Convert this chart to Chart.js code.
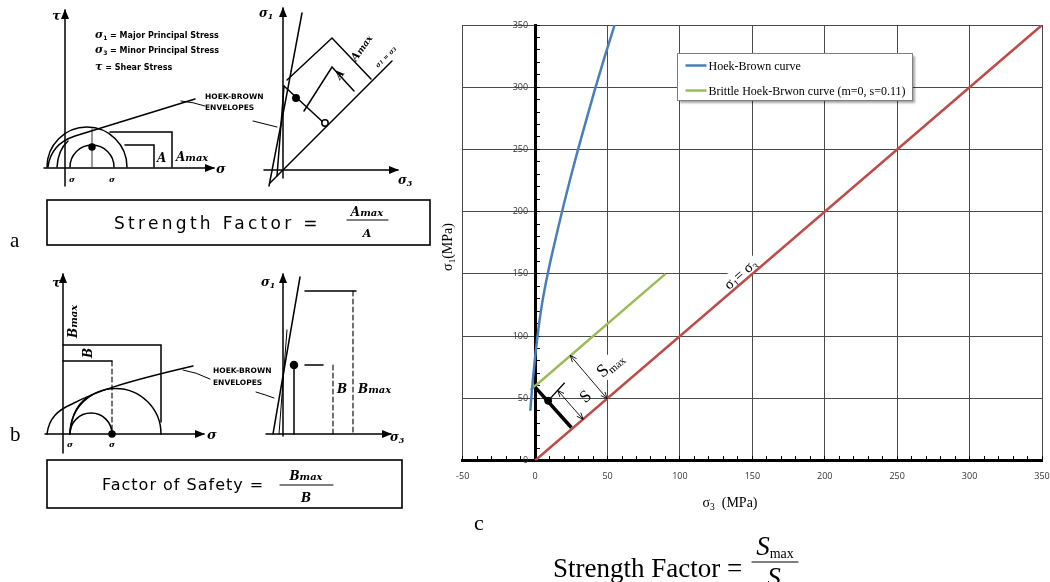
<!DOCTYPE html>
<html><head><meta charset="utf-8">
<script src="https://cdn.jsdelivr.net/npm/chart.js@4.4.1/dist/chart.umd.min.js"></script>
<style>
html,body{margin:0;padding:0;background:#fff;}
#page{position:relative;width:1050px;height:582px;overflow:hidden;background:#fff;}
#wrap{position:absolute;left:422px;top:0;width:660px;height:500px;}
#ov{position:absolute;left:0;top:0;pointer-events:none;}
.cap{font-family:"DejaVu Sans",sans-serif;font-weight:bold;font-size:7.5px;fill:#000;stroke:none;}
.lg{font-family:"DejaVu Sans",sans-serif;font-weight:bold;font-size:8px;fill:#000;stroke:none;}
.sg{font-family:"DejaVu Serif",serif;font-style:italic;font-weight:bold;fill:#000;stroke:none;}
.bx{font-family:"DejaVu Sans",sans-serif;fill:#000;stroke:none;}
.ser{font-family:"Liberation Serif","Times New Roman",serif;fill:#000;stroke:none;}
</style></head>
<body><div id="page">
<div id="wrap"><canvas id="c" width="660" height="500"></canvas></div>
<svg id="ov" width="1050" height="582" viewBox="0 0 1050 582" xmlns="http://www.w3.org/2000/svg">
<defs>
<marker id="ar" markerWidth="10" markerHeight="8" refX="9" refY="4" orient="auto" markerUnits="userSpaceOnUse"><path d="M0,0 L10,4 L0,8 z" fill="#000"/></marker>
</defs>
<g stroke="#000" fill="none" stroke-width="1.5" stroke-linecap="round">
<!-- panel a, left sketch -->
<line x1="65" y1="186" x2="65" y2="10" marker-end="url(#ar)"/>
<line x1="44" y1="168" x2="214" y2="168" marker-end="url(#ar)"/>
<path d="M48,167 C50,150 60,141 75,136 S140,116 195,99"/>
<path d="M47,167 A40,40 0 0 1 127,167"/>
<path d="M70,167 A22,22 0 0 1 114,167"/>
<path d="M57,167 Q58,150 68,141"/>
<line x1="92" y1="129" x2="92" y2="167" stroke-width="0.8"/>
<polyline points="125,145 154,145 154,167"/>
<polyline points="110,132 172,132 172,167"/>
<path d="M205,106 Q193,102 181,101" stroke-width="1"/>
<circle cx="92" cy="147" r="3" fill="#000"/>
<!-- panel a, right sketch -->
<line x1="283" y1="178" x2="283" y2="8" marker-end="url(#ar)"/>
<line x1="264" y1="170" x2="398" y2="170" marker-end="url(#ar)"/>
<path d="M269,186 Q286,100 302,13"/>
<path d="M277,176 L284,86"/>
<line x1="270" y1="183" x2="392" y2="61"/>
<line x1="284" y1="86" x2="325" y2="124"/>
<circle cx="296" cy="98" r="3.2" fill="#000"/>
<circle cx="325" cy="123" r="3.2" fill="#fff"/>
<polyline points="304,111 332,67 354,91"/>
<polyline points="287,80 332,38 371,79"/>
<path d="M253,121 Q265,124 277,127" stroke-width="1"/>
<rect x="47" y="200" width="383" height="45" stroke-width="1.6"/>
<line x1="347" y1="220" x2="388" y2="220" stroke-width="1.2"/>
<!-- panel b, left sketch -->
<line x1="63" y1="453" x2="63" y2="274" marker-end="url(#ar)"/>
<line x1="45" y1="434" x2="204" y2="434" marker-end="url(#ar)"/>
<path d="M47,434 C49,418 58,410 72,404 C95,392 120,383 193,366"/>
<path d="M70,434 A45.5,45.5 0 0 1 161,434"/>
<path d="M70,434 A21,21 0 0 1 112,434"/>
<path d="M70,434 Q72,404 92,395"/>
<circle cx="112" cy="434" r="3" fill="#000"/>
<polyline points="63,345 161,345 161,422"/>
<line x1="63" y1="361" x2="112" y2="361"/>
<line x1="112" y1="361" x2="112" y2="434" stroke-dasharray="5,3" stroke-width="1.1"/>
<path d="M210,379 Q196,372 183,370" stroke-width="1"/>
<!-- panel b, right sketch -->
<line x1="283" y1="436" x2="283" y2="274" marker-end="url(#ar)"/>
<line x1="266" y1="434" x2="391" y2="434" marker-end="url(#ar)"/>
<line x1="273" y1="434" x2="300" y2="277"/>
<line x1="279" y1="434" x2="287" y2="330" stroke-width="1"/>
<line x1="294" y1="365" x2="294" y2="434"/>
<circle cx="294" cy="365" r="3.5" fill="#000"/>
<line x1="305" y1="365" x2="323" y2="365"/>
<line x1="333" y1="365" x2="333" y2="434" stroke-dasharray="5,3" stroke-width="1.1"/>
<line x1="305" y1="291" x2="356" y2="291"/>
<line x1="353" y1="291" x2="353" y2="434" stroke-dasharray="5,3" stroke-width="1.1"/>
<path d="M256,392 Q266,395 274,398" stroke-width="1"/>
<rect x="47" y="460" width="355" height="48" stroke-width="1.6"/>
<line x1="280" y1="485" x2="333" y2="485" stroke-width="1.2"/>
<!-- equation bar (panel c) -->
<line x1="752" y1="562" x2="798" y2="562" stroke-width="1.1"/>
</g>
<!-- texts, panel a -->
<text x="52" y="20" class="sg" font-size="13">τ</text>
<text x="95" y="38" class="lg"><tspan class="sg" font-size="11">σ</tspan><tspan font-size="6" dy="2">1</tspan><tspan dy="-2"> = Major Principal Stress</tspan></text>
<text x="95" y="53" class="lg"><tspan class="sg" font-size="11">σ</tspan><tspan font-size="6" dy="2">3</tspan><tspan dy="-2"> = Minor Principal Stress</tspan></text>
<text x="95" y="70" class="lg"><tspan class="sg" font-size="11">τ</tspan><tspan>   = Shear Stress</tspan></text>
<text x="205" y="99" class="cap">HOEK-BROWN</text>
<text x="205" y="110" class="cap">ENVELOPES</text>
<text x="216" y="173" class="sg" font-size="13">σ</text>
<text x="69" y="182" class="sg" font-size="8">σ</text>
<text x="109" y="182" class="sg" font-size="8">σ</text>
<text x="157" y="162" class="sg" font-size="12">A</text>
<text x="176" y="161" class="sg" font-size="12">A<tspan font-size="10">max</tspan></text>
<text x="259" y="17" class="sg" font-size="12">σ<tspan font-size="8" dy="2">1</tspan></text>
<text x="398" y="184" class="sg" font-size="12">σ<tspan font-size="8" dy="2">3</tspan></text>
<text transform="translate(378,68) rotate(-45)" class="sg" font-size="6.5">σ<tspan font-size="5">1</tspan> = σ<tspan font-size="5">3</tspan></text>
<text transform="translate(340,80) rotate(-55)" class="sg" font-size="11">A</text>
<text transform="translate(356,62) rotate(-55)" class="sg" font-size="11">A<tspan font-size="9">max</tspan></text>
<text x="114" y="229" class="bx" font-size="17" letter-spacing="3.3">Strength Factor =</text>
<text x="367" y="216" class="sg" font-size="12" text-anchor="middle">A<tspan font-size="10">max</tspan></text>
<text x="367" y="237" class="sg" font-size="11" text-anchor="middle">A</text>
<text x="10" y="247" class="ser" font-size="21">a</text>
<!-- texts, panel b -->
<text x="52" y="287" class="sg" font-size="13">τ</text>
<text x="207" y="439" class="sg" font-size="13">σ</text>
<text x="67" y="447" class="sg" font-size="8">σ</text>
<text x="109" y="447" class="sg" font-size="8">σ</text>
<text transform="translate(77,338) rotate(-90)" class="sg" font-size="12">B<tspan font-size="10">max</tspan></text>
<text transform="translate(92,358) rotate(-90)" class="sg" font-size="12">B</text>
<text x="213" y="373" class="cap">HOEK-BROWN</text>
<text x="213" y="385" class="cap">ENVELOPES</text>
<text x="261" y="286" class="sg" font-size="12">σ<tspan font-size="8" dy="2">1</tspan></text>
<text x="390" y="441" class="sg" font-size="12">σ<tspan font-size="8" dy="2">3</tspan></text>
<text x="337" y="393" class="sg" font-size="12">B</text>
<text x="358" y="393" class="sg" font-size="12">B<tspan font-size="10">max</tspan></text>
<text x="102" y="490" class="bx" font-size="16" letter-spacing="1">Factor of Safety =</text>
<text x="306" y="480" class="sg" font-size="12" text-anchor="middle">B<tspan font-size="10">max</tspan></text>
<text x="306" y="502" class="sg" font-size="12" text-anchor="middle">B</text>
<text x="10" y="441" class="ser" font-size="21">b</text>
<!-- texts, panel c -->
<text transform="translate(452,247) rotate(-90)" class="ser" font-size="14" text-anchor="middle">σ<tspan font-size="9" dy="3">1</tspan><tspan dy="-3">(MPa)</tspan></text>
<text x="730" y="507" class="ser" font-size="14" text-anchor="middle" xml:space="preserve">σ<tspan font-size="9.5" dy="3">3</tspan><tspan dy="-3">  (MPa)</tspan></text>
<text x="474" y="530" class="ser" font-size="22">c</text>
<text x="553" y="577" class="ser" font-size="27">Strength Factor =</text>
<text x="775" y="555" class="ser" font-size="27" text-anchor="middle"><tspan font-style="italic">S</tspan><tspan font-size="14" dy="3">max</tspan></text>
<text x="774" y="586" class="ser" font-size="27" font-style="italic" text-anchor="middle">S</text>
</svg>
</div>
<script>
// ---- data ----
const hbSigma3 = [-3.3, -2.5, -1.5, 0, 1.5, 3, 5, 8.7, 12, 16, 20, 24.5, 29, 35, 41, 48, 54.9];
const hbSigma1 = [40, 52, 65.5, 83, 98.5, 112, 127.5, 150, 167.5, 187.5, 206.7, 227.4, 247.2, 272.4, 297, 324.3, 350];
const brittleSigma3 = [-3.2, 90];
const brittleSigma1 = [56.7, 150];
const equalSigma3 = [0, 350];
const equalSigma1 = [0, 350];
const perpSigma3 = [0, 25];
const perpSigma1 = [59, 26.5];
const pointSigma3 = [9];
const pointSigma1 = [48];
const extSigma3 = [9, 20.4];
const extSigma1 = [48, 62.5];
const sArrowSigma3 = [15.6, 33.1];
const sArrowSigma1 = [56.3, 33.1];
const smaxArrowSigma3 = [24.3, 49.7];
const smaxArrowSigma1 = [84.4, 49.7];
const labelS = [34.9, 51.3];
const labelSmax = [51.9, 76.8];
const labelEqual = [141.6, 149.9];
const xTickLabels = [-50, 0, 50, 100, 150, 200, 250, 300, 350];
const yTickLabels = [0, 50, 100, 150, 200, 250, 300, 350];
const seriesNames = ['Hoek-Brown curve', 'Brittle Hoek-Brwon curve (m=0, s=0.11)'];
const seriesColors = ['#4A7EBB', '#9BBB59'];

const toXY = (xs, ys) => xs.map((v, i) => ({x: v, y: ys[i]}));
const isMajor = v => xTickLabels.includes(Math.round(v)) && Math.abs(v - Math.round(v)) < 1e-6;
const isMajorY = v => yTickLabels.includes(Math.round(v)) && Math.abs(v - Math.round(v)) < 1e-6;

function richText(ctx, cx, cy, angle, segs, bg) {
  ctx.save();
  ctx.translate(cx, cy);
  ctx.rotate(angle);
  let w = 0;
  segs.forEach(s => { ctx.font = s.size + 'px "Liberation Serif", serif'; s.w = ctx.measureText(s.t).width; w += s.w; });
  if (bg) { ctx.fillStyle = '#fff'; ctx.fillRect(-w / 2 - 2, -bg / 2, w + 4, bg); }
  ctx.fillStyle = '#000';
  ctx.textBaseline = 'alphabetic';
  let xx = -w / 2;
  segs.forEach(s => { ctx.font = s.size + 'px "Liberation Serif", serif'; ctx.fillText(s.t, xx, (s.dy || 0) + 5); xx += s.w; });
  ctx.restore();
}
function dimArrow(ctx, p1, p2) {
  ctx.save();
  ctx.strokeStyle = '#000'; ctx.lineWidth = 0.9;
  ctx.beginPath(); ctx.moveTo(p1[0], p1[1]); ctx.lineTo(p2[0], p2[1]); ctx.stroke();
  const head = (tip, from) => {
    const a = Math.atan2(tip[1] - from[1], tip[0] - from[0]);
    const L = 7, w = 0.4;
    ctx.beginPath();
    ctx.moveTo(tip[0] - L * Math.cos(a - w), tip[1] - L * Math.sin(a - w));
    ctx.lineTo(tip[0], tip[1]);
    ctx.lineTo(tip[0] - L * Math.cos(a + w), tip[1] - L * Math.sin(a + w));
    ctx.stroke();
  };
  head(p2, p1); head(p1, p2);
  ctx.restore();
}

const annot = {
  id: 'annot',
  beforeDatasetsDraw(chart) {
    const {ctx, scales: {x, y}} = chart;
    const ang = Math.atan2(y.getPixelForValue(1) - y.getPixelForValue(0), x.getPixelForValue(1) - x.getPixelForValue(0));
    richText(ctx, x.getPixelForValue(labelEqual[0]), y.getPixelForValue(labelEqual[1]), ang,
      [{t: 'σ', size: 15}, {t: '1', size: 10, dy: 3}, {t: '= σ', size: 15}, {t: '3', size: 10, dy: 3}], 17);
    richText(ctx, x.getPixelForValue(labelSmax[0]), y.getPixelForValue(labelSmax[1]), ang,
      [{t: 'S', size: 18}, {t: 'max', size: 11, dy: 3}], 19);
    richText(ctx, x.getPixelForValue(labelS[0]), y.getPixelForValue(labelS[1]), ang,
      [{t: 'S', size: 17}], 0);
  },
  afterDatasetsDraw(chart) {
    const {ctx, scales: {x, y}, chartArea} = chart;
    const P = (a, b) => [x.getPixelForValue(a), y.getPixelForValue(b)];
    dimArrow(ctx, P(sArrowSigma3[0], sArrowSigma1[0]), P(sArrowSigma3[1], sArrowSigma1[1]));
    dimArrow(ctx, P(smaxArrowSigma3[0], smaxArrowSigma1[0]), P(smaxArrowSigma3[1], smaxArrowSigma1[1]));
    // legend
    const lx = Math.round(chartArea.left + 214) + 0.5, ly = Math.round(chartArea.top + 28) + 0.5;
    const lw = 235, lh = 47;
    ctx.save();
    ctx.shadowColor = 'rgba(0,0,0,0.35)'; ctx.shadowOffsetX = 2; ctx.shadowOffsetY = 2; ctx.shadowBlur = 2;
    ctx.fillStyle = '#fff'; ctx.fillRect(lx, ly, lw, lh);
    ctx.shadowColor = 'rgba(0,0,0,0)';
    ctx.strokeStyle = '#808080'; ctx.lineWidth = 1; ctx.strokeRect(lx, ly, lw, lh);
    seriesNames.forEach((name, i) => {
      const ds = chart.data.datasets.find(d => d.label === name);
      const yy = ly + 12 + i * 25;
      ctx.strokeStyle = ds.borderColor; ctx.lineWidth = 2.5;
      ctx.beginPath(); ctx.moveTo(lx + 8, yy); ctx.lineTo(lx + 29, yy); ctx.stroke();
      ctx.fillStyle = '#000'; ctx.font = '12px "Liberation Serif", serif'; ctx.textBaseline = 'middle';
      ctx.fillText(ds.label, lx + 31, yy + 1);
    });
    ctx.restore();
  }
};

new Chart(document.getElementById('c'), {
  type: 'scatter',
  data: {
    datasets: [
      {label: 'point', data: toXY(pointSigma3, pointSigma1), pointRadius: 3.5, pointBackgroundColor: '#000', pointBorderColor: '#000', showLine: false},
      {label: 'perpendicular', data: toXY(perpSigma3, perpSigma1), showLine: true, borderColor: '#000', borderWidth: 3.5, pointRadius: 0},
      {label: 'extension', data: toXY(extSigma3, extSigma1), showLine: true, borderColor: '#000', borderWidth: 1.2, pointRadius: 0},
      {label: seriesNames[0], data: toXY(hbSigma3, hbSigma1), showLine: true, borderColor: seriesColors[0], borderWidth: 2.5, pointRadius: 0, cubicInterpolationMode: 'monotone'},
      {label: seriesNames[1], data: toXY(brittleSigma3, brittleSigma1), showLine: true, borderColor: seriesColors[1], borderWidth: 2.5, pointRadius: 0},
      {label: 'σ1 = σ3', data: toXY(equalSigma3, equalSigma1), showLine: true, borderColor: '#BE4B48', borderWidth: 2.5, pointRadius: 0}
    ]
  },
  options: {
    responsive: false,
    devicePixelRatio: 1,
    animation: false,
    layout: {padding: {left: 40.7, right: 40, top: 25, bottom: 39.5}},
    plugins: {legend: {display: false}, tooltip: {enabled: false}},
    scales: {
      x: {
        type: 'linear', min: -50, max: 350, position: {y: 0},
        ticks: {stepSize: 10, autoSkip: false, maxRotation: 0, padding: 17, color: '#333',
          font: {family: '"Open Sans", sans-serif', size: 9},
          callback: v => isMajor(v) ? String(Math.round(v)) : ''},
        grid: {color: c => isMajor(c.tick.value) ? '#4a4a4a' : 'rgba(0,0,0,0)', lineWidth: 1, tickLength: -6, tickColor: '#000', tickWidth: 1},
        border: {display: true, color: '#000', width: 3}
      },
      y: {
        type: 'linear', min: 0, max: 350, position: {x: 0},
        ticks: {stepSize: 10, autoSkip: false, color: '#333',
          font: {family: '"Open Sans", sans-serif', size: 9},
          callback: v => isMajorY(v) ? String(Math.round(v)) + '   ' : ''},
        grid: {color: c => isMajorY(c.tick.value) ? '#4a4a4a' : 'rgba(0,0,0,0)', lineWidth: 1, tickLength: -6, tickColor: '#000', tickWidth: 1},
        border: {display: true, color: '#000', width: 3}
      }
    }
  },
  plugins: [annot]
});
</script>
</body></html>
